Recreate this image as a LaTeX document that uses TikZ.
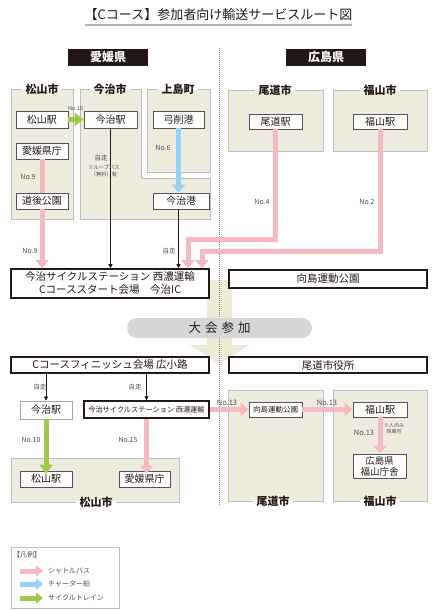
\documentclass[tikz,border=0pt]{standalone}
\usepackage{fontspec}
\setmainfont{Noto Sans CJK JP}
\usetikzlibrary{arrows.meta,calc}
\definecolor{pinkc}{HTML}{F5B9C1}
\definecolor{bluec}{HTML}{92D3F5}
\definecolor{greenc}{HTML}{9DC94B}
\definecolor{regfill}{HTML}{EEECDF}
\definecolor{arrfill}{HTML}{EDEAD6}
\definecolor{regline}{HTML}{BDBDBD}
\definecolor{txt}{HTML}{231815}
\definecolor{lbl}{HTML}{4D4D4D}
\definecolor{pill}{HTML}{D6D6D6}
\newcommand\fs[1]{\fontsize{#1}{#1}\selectfont}
\newcommand\regtitle[3]{%
  \path (#2) node[rtitle,inner xsep=3pt,inner ysep=0pt] (#1) {\phantom{#3}};
  \fill[white] ([yshift=-1.3pt]#1.west) rectangle ([yshift=1.3pt]#1.east);
  \node[rtitle] at (#1.center) {#3};}
\tikzset{
  region/.style={fill=regfill,draw=regline,line width=1pt},
  rtitle/.style={font=\fs{11}\bfseries,text=txt},
  nbox/.style={draw=txt!75,fill=white,line width=0.7pt,font=\fs{10},text=txt,inner sep=0pt},
  bigbox/.style={draw=txt,fill=white,line width=1.6pt,font=\fs{10.5},text=txt,inner sep=0pt,align=center},
  pref/.style={fill=txt,text=white,font=\fs{12}\bfseries,minimum width=80,minimum height=17,inner sep=0pt},
  pk/.style={draw=pinkc,line width=5pt,line join=miter,-{Triangle[width=13pt,length=8pt]}},
  pkline/.style={draw=pinkc,line width=5pt},
  bl/.style={draw=bluec,line width=5pt,-{Triangle[width=13pt,length=8pt]}},
  gr/.style={draw=greenc,line width=5pt,-{Triangle[width=13pt,length=9pt]}},
  thin/.style={draw=txt,line width=0.6pt,-{Triangle[width=4pt,length=4pt]}},
  lab/.style={font=\fs{7},text=lbl,inner sep=0pt},
  tiny/.style={font=\fontsize{5.3}{6.3}\selectfont,text=lbl,inner sep=0pt,align=center},
}
\begin{document}
\begin{tikzpicture}[x=1pt,y=-1pt]
\useasboundingbox (0,0) rectangle (436,611);
% title
\node[font=\fs{13},text=txt,inner sep=0pt] (title) at (218.5,15) {【Cコース】参加者向け輸送サービスルート図};
\draw[gray!60,line width=1.2pt] (85,25) -- (352,25);
\node[pref] (ehime) at (108,57) {愛媛県};
\node[pref] (hiro) at (326,57) {広島県};
% regions top
\draw[region] (11,89) rectangle (73,219);
\draw[region] (80,89) -- (141,89) -- (141,178) -- (210,178) -- (210,219) -- (80,219) -- cycle;
\draw[region] (147,89) rectangle (210,172);
\draw[region] (228,90) rectangle (323,151);
\draw[region] (333,90) rectangle (427,151);
% regions bottom
\draw[region] (11,458) rectangle (179,502);
\draw[region] (228,390) rectangle (323,501);
\draw[region] (333,390) rectangle (427,501);
\regtitle{t1}{42,89}{松山市}
\regtitle{t2}{110,89}{今治市}
\regtitle{t3}{178,89}{上島町}
\regtitle{t4}{275,90}{尾道市}
\regtitle{t5}{380,90}{福山市}
\regtitle{t6}{96,502}{松山市}
\regtitle{t7}{273,501}{尾道市}
\regtitle{t8}{380,501}{福山市}
% big arrow
\fill[arrfill] (207,280) -- (232,280) -- (232,345) -- (249.5,345) -- (219.5,364) -- (189.5,345) -- (207,345) -- cycle;
\draw[gray,line width=1pt,dash pattern=on 1pt off 1pt] (219,48) -- (219,505);
\node[fill=pill,rounded corners=10pt,minimum width=185,minimum height=20,inner sep=0pt,font=\fs{12.5},text=txt] (taikai) at (219.5,328) {大\hspace{4pt}会\hspace{4pt}参\hspace{4pt}加};
% top nodes
\node[nbox,minimum width=52,minimum height=17] (matsu1) at (42,119.5) {松山駅};
\node[nbox,minimum width=53,minimum height=17] (imaeki1) at (110.5,119.5) {今治駅};
\node[nbox,minimum width=51,minimum height=17] (yuge) at (178.5,119.5) {弓削港};
\node[nbox,minimum width=52,minimum height=16] (kencho1) at (42,151) {愛媛県庁};
\node[nbox,minimum width=52,minimum height=16] (dogo) at (42,201) {道後公園};
\node[nbox,minimum width=56,minimum height=16] (imako) at (181,201) {今治港};
\node[nbox,minimum width=53,minimum height=15] (onoeki) at (275.5,121.5) {尾道駅};
\node[nbox,minimum width=54,minimum height=15] (fukueki1) at (380,121.5) {福山駅};
\node[bigbox,minimum width=198,minimum height=29,font=\fontsize{10.5}{13}\selectfont] (start) at (110,283.5) {今治サイクルステーション 西濃運輸\\Cコーススタート会場　今治IC};
\node[bigbox,minimum width=198,minimum height=18] (muka1) at (328,279) {向島運動公園};
\node[bigbox,minimum width=198,minimum height=16] (finish) at (110,365) {Cコースフィニッシュ会場 広小路};
\node[bigbox,minimum width=198,minimum height=16] (onoyaku) at (328,365) {尾道市役所};
% bottom nodes
\node[nbox,draw=gray!70,minimum width=52,minimum height=18] (imaeki2) at (46,410) {今治駅};
\node[bigbox,line width=1.3pt,minimum width=125,minimum height=17,font=\fs{7.2}] (station2) at (146.5,409.5) {今治サイクルステーション 西濃運輸};
\node[nbox,minimum width=52,minimum height=16] (matsu2) at (46,479) {松山駅};
\node[nbox,minimum width=51,minimum height=16] (kencho2) at (144.5,479) {愛媛県庁};
\node[nbox,minimum width=53,minimum height=15,font=\fs{7.5}] (muka2) at (275.5,409.5) {向島運動公園};
\node[nbox,minimum width=54,minimum height=15] (fukueki2) at (380,409.5) {福山駅};
\node[nbox,minimum width=53,minimum height=24,align=center,font=\fontsize{9.5}{11}\selectfont] (chosha) at (379.5,466) {広島県\\福山庁舎};
% top connectors
\draw[gr] (matsu1.east) -- (imaeki1.west);
\node[lab,font=\fs{5.5}] (l10a) at (75.5,108.5) {No.10};
\draw[pkline] (kencho1.south) -- (dogo.north);
\draw[pk] (dogo.south) -- (dogo.south |- start.north);
\node[lab] (l9a) at (28,177) {No.9};
\node[lab] (l9b) at (30,251) {No.9};
\draw[bl] (yuge.south) -- (yuge.south |- imako.north);
\node[lab] (l6) at (163,148) {No.6};
\draw[thin] (imaeki1.south) -- (imaeki1.south |- start.north);
\node[lab,font=\fs{6.5}] (jisoa) at (101,158) {自走};
\node[tiny] (loop) at (104,171) {※ループバス\\（無料）有};
\draw[thin] (imako.south -| yuge.south) -- (yuge.south |- start.north);
\node[lab,font=\fs{6.5}] (jisob) at (169,251) {自走};
\coordinate (t4) at (188,239);
\coordinate (t2) at (202,251);
\draw[pk] (onoeki.south) |- (t4) -- (t4 |- start.north);
\draw[pk] (fukueki1.south) |- (t2) -- (t2 |- start.north);
\node[lab] (l4) at (262,202) {No.4};
\node[lab] (l2) at (367,202) {No.2};
% bottom connectors
\draw[thin] (imaeki2.north |- finish.south) -- (imaeki2.north);
\draw[thin] (station2.north |- finish.south) -- (station2.north);
\node[lab,font=\fs{6.5}] (jisoc) at (40,387) {自走};
\node[lab,font=\fs{6.5}] (jisod) at (135,387) {自走};
\draw[gr] (imaeki2.south) -- ([yshift=-3pt]matsu2.north);
\draw[pk] (station2.south) -- ([yshift=-3pt]station2.south |- kencho2.north);
\node[lab] (l10b) at (31,440) {No.10};
\node[lab] (l15) at (128,440) {No.15};
\draw[pk] (station2.east) -- (muka2.west);
\draw[pk] (muka2.east) -- (fukueki2.west);
\draw[pk] (fukueki2.south) -- (fukueki2.south |- chosha.north);
\node[lab,font=\fs{7.5}] (l13a) at (227,403) {No.13};
\node[lab,font=\fs{7.5}] (l13b) at (327,403) {No.13};
\node[lab,font=\fs{7.5}] (l13c) at (364,433) {No.13};
\node[tiny,font=\fontsize{5}{6}\selectfont] (hito) at (394,429) {※人のみ\\降車可};
% legend
\draw[draw=regline,line width=0.8pt] (11,547) rectangle (119,608);
\node[lab,anchor=west] (hanrei) at (13,554.5) {【凡例】};
\coordinate (lp1) at (20,571); \coordinate (lp2) at (43,571);
\coordinate (lb1) at (20,584); \coordinate (lb2) at (43,584);
\coordinate (lg1) at (20,598); \coordinate (lg2) at (43,598);
\draw[pk,-{Triangle[width=11pt,length=7pt]}] (lp1) -- (lp2);
\draw[bl,-{Triangle[width=11pt,length=7pt]}] (lb1) -- (lb2);
\draw[gr,-{Triangle[width=11pt,length=7pt]}] (lg1) -- (lg2);
\node[lab,anchor=west] (lt1) at (48,571) {シャトルバス};
\node[lab,anchor=west] (lt2) at (48,584) {チャーター船};
\node[lab,anchor=west] (lt3) at (48,598) {サイクルトレイン};
\end{tikzpicture}
\end{document}
